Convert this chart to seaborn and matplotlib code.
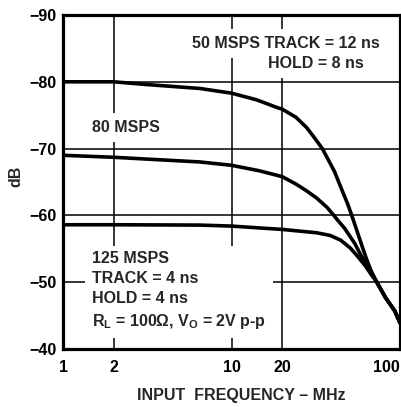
import numpy as np
import pandas as pd
import matplotlib
matplotlib.use("Agg")
import matplotlib.pyplot as plt
from matplotlib.ticker import NullLocator
import seaborn as sns

# ---- data ----
freq_50 = [1, 2, 3.1, 6.5, 10, 14.1, 18.4, 20, 24.1, 27.8, 30.7, 34.6, 40.8, 44.4, 49.1, 51.4, 55,
           59, 63, 67.1, 72.1, 82, 93.1, 100]
db_50 = [-80.0, -80.0, -79.6, -79.0, -78.3, -77.3, -76.2, -75.9, -74.7, -73.2, -71.8, -70.0, -66.6,
         -64.3, -61.6, -60.2, -58.0, -55.7, -53.6, -51.8, -50.2, -47.7, -45.7, -43.9]

freq_80 = [1, 2, 6.5, 10, 14.5, 20, 24.1, 27.8, 32, 36.9, 40.2, 42.6, 46.8, 53.9, 59, 63, 67.1, 72.1,
           82, 93.1, 100]
db_80 = [-69.0, -68.7, -68.0, -67.5, -66.7, -65.8, -64.7, -63.7, -62.6, -61.2, -60.1, -59.3, -58.1,
         -55.8, -53.9, -52.7, -51.5, -50.2, -47.7, -45.7, -43.9]

freq_125 = [1, 2, 6.5, 10, 20, 32, 38.5, 44.4, 50.8, 55.9, 62.5, 68.5, 72.1, 82, 93.1, 100]
db_125 = [-58.6, -58.6, -58.55, -58.4, -57.9, -57.4, -57.0, -56.3, -55.1, -53.9, -52.4, -50.9, -50.2,
          -47.7, -45.7, -43.9]

series_names = ["50 MSPS", "80 MSPS", "125 MSPS"]
x_ticks = [1, 2, 10, 20, 100]
x_tick_labels = ["1", "2", "10", "20", "100"]
y_ticks = [-90, -80, -70, -60, -50, -40]

df = pd.concat([
    pd.DataFrame({"freq": freq_50, "db": db_50, "series": series_names[0]}),
    pd.DataFrame({"freq": freq_80, "db": db_80, "series": series_names[1]}),
    pd.DataFrame({"freq": freq_125, "db": db_125, "series": series_names[2]}),
], ignore_index=True)

sns.set_style("white")
plt.rcParams["font.family"] = ["Liberation Sans", "DejaVu Sans"]
plt.rcParams["font.weight"] = "bold"
plt.rcParams["mathtext.fontset"] = "custom"
plt.rcParams["mathtext.rm"] = "Liberation Sans:bold"
plt.rcParams["mathtext.it"] = "Liberation Sans:bold"
plt.rcParams["mathtext.bf"] = "Liberation Sans:bold"
plt.rcParams["mathtext.default"] = "rm"
plt.rcParams["lines.solid_joinstyle"] = "round"
plt.rcParams["lines.solid_capstyle"] = "round"

FS = 11.5
fig = plt.figure(figsize=(4.01, 4.07), dpi=100)
fig.patch.set_facecolor("white")
ax = fig.add_axes([63 / 401, 1 - 349 / 407, 337 / 401, 334 / 407])

sns.lineplot(data=df, x="freq", y="db", hue="series", palette=["black"] * 3,
             linewidth=2.6, legend=False, ax=ax, estimator=None, zorder=2)

ax.set_xscale("log")
ax.set_xlim(1, 100)
ax.set_ylim(-40, -90)
ax.set_xticks(x_ticks)
ax.set_xticklabels(x_tick_labels)
ax.xaxis.set_minor_locator(NullLocator())
ax.set_yticks(y_ticks)
ax.set_yticklabels([f"\u2212{abs(v)}" for v in y_ticks])

ax.grid(True, color="black", linewidth=1.1)
ax.tick_params(axis="both", direction="in", length=0, labelsize=FS, colors="black")
ax.tick_params(axis="x", pad=8)
ax.tick_params(axis="y", pad=4.5)
for lab in ax.get_xticklabels() + ax.get_yticklabels():
    lab.set_fontweight("bold")
ax.get_xticklabels()[-1].set_horizontalalignment("right")

for sp in ax.spines.values():
    sp.set_visible(True)
    sp.set_color("black")
    sp.set_linewidth(2.3)

ax.set_xlabel("INPUT  FREQUENCY \u2013 MHz", fontsize=FS, fontweight="bold")
ax.set_ylabel("dB", fontsize=FS, fontweight="bold")
ax.xaxis.set_label_coords(0.528, -0.117)
ax.yaxis.set_label_coords(-0.119, 0.518)

box = dict(facecolor="white", edgecolor="none", boxstyle="square,pad=0.45")
ax.text(0.383, 0.901, "50 MSPS TRACK = 12 ns", transform=ax.transAxes, fontsize=FS,
        fontweight="bold", va="baseline", ha="left", bbox=box, zorder=1.8)
ax.text(0.608, 0.841, "HOLD = 8 ns", transform=ax.transAxes, fontsize=FS,
        fontweight="bold", va="baseline", ha="left", bbox=box, zorder=1.8)
ax.text(0.086, 0.650, "80 MSPS", transform=ax.transAxes, fontsize=FS,
        fontweight="bold", va="baseline", ha="left", bbox=box, zorder=1.8)
ax.text(0.086, 0.293, "125 MSPS\nTRACK = 4 ns\nHOLD = 4 ns\nR$_{L}$ = 100\u03a9, V$_{O}$ = 2V p-p",
        transform=ax.transAxes, fontsize=FS, fontweight="bold", va="top", ha="left",
        linespacing=1.41, bbox=box, zorder=1.8)

fig.savefig("out.png", dpi=100, facecolor="white")
